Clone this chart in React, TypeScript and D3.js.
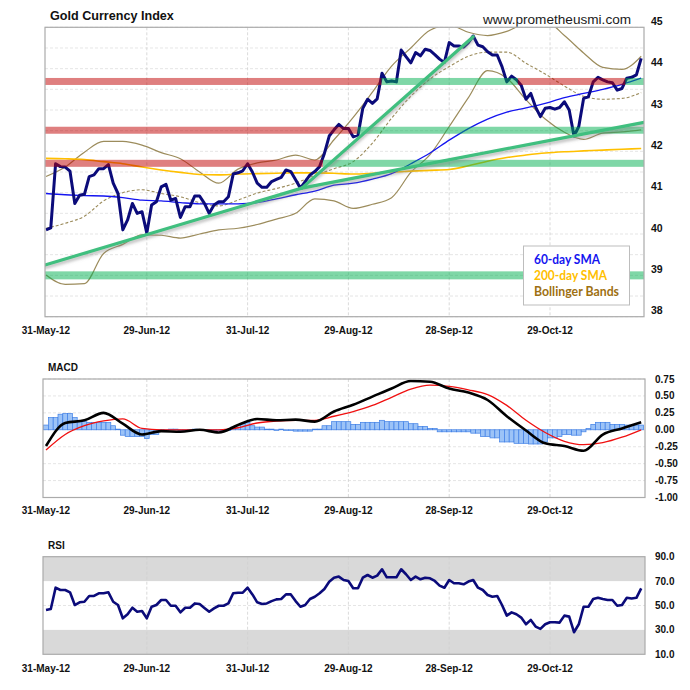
import React from 'react';
import * as d3 from 'd3';

// ---------- DATA ----------
const tickLabels = ['31-May-12', '29-Jun-12', '31-Jul-12', '29-Aug-12', '28-Sep-12', '29-Oct-12'];
const tickIndex = [0, 21, 42, 63, 84, 105];

const mainTicks = [38, 39, 40, 41, 42, 43, 44, 45];
const macdTicks = [-1.0, -0.75, -0.5, -0.25, 0.0, 0.25, 0.5, 0.75];
const rsiTicks = [10, 30, 50, 70, 90];

// daily closes (trading-day index 0..124)
const price = [
  40.10, 40.15, 41.70, 41.63, 41.62, 41.52, 40.74, 40.94, 40.96, 41.39,
  41.43, 41.58, 41.58, 41.68, 41.23, 40.98, 40.10, 40.34, 40.74, 40.50,
  40.54, 40.02, 40.70, 40.78, 41.14, 41.20, 40.82, 40.86, 40.40, 40.66,
  40.66, 40.92, 40.92, 40.74, 40.50, 40.70, 40.78, 40.78, 40.90, 41.45,
  41.48, 41.53, 41.70, 41.50, 41.23, 41.13, 41.13, 41.27, 41.32, 41.37,
  41.55, 41.51, 41.31, 41.11, 41.27, 41.43, 41.51, 41.63, 41.95, 42.37,
  42.52, 42.65, 42.55, 42.55, 42.35, 42.39, 43.04, 43.26, 43.16, 43.27,
  43.89, 43.68, 43.70, 43.68, 44.45, 44.29, 44.14, 44.39, 44.31, 44.47,
  44.44, 44.34, 44.23, 44.15, 44.63, 44.55, 44.55, 44.52, 44.63, 44.79,
  44.57, 44.53, 44.41, 44.33, 44.33, 44.05, 43.68, 43.82, 43.73, 43.60,
  43.26, 43.40, 43.07, 42.84, 43.04, 43.06, 43.02, 43.06, 43.20, 43.00,
  42.37, 42.60, 43.28, 43.32, 43.68, 43.79, 43.73, 43.68, 43.66, 43.48,
  43.52, 43.77, 43.79, 43.85, 44.25,
];

// smooth series, sampled every 4 trading days (index 0,4,...,124)
const smoothStep = 4;
const sma60 = [
  40.98, 40.95, 40.93, 40.92, 40.88, 40.82, 40.80, 40.76, 40.73, 40.73,
  40.73, 40.76, 40.85, 40.95, 41.04, 41.18, 41.23, 41.33, 41.46, 41.70,
  41.96, 42.27, 42.55, 42.78, 42.95, 43.05, 43.16, 43.30, 43.40, 43.50,
  43.62, 43.77,
];
const sma200 = [
  41.83, 41.82, 41.80, 41.75, 41.70, 41.62, 41.55, 41.49, 41.44, 41.43,
  41.45, 41.46, 41.47, 41.48, 41.48, 41.47, 41.45, 41.47, 41.50, 41.52,
  41.54, 41.56, 41.65, 41.76, 41.85, 41.91, 41.96, 41.99, 42.01, 42.03,
  42.05, 42.07,
];
const bbUpper = [
  41.39, 41.62, 41.98, 42.24, 42.24, 42.15, 41.97, 41.82, 41.50, 41.23,
  41.57, 41.72, 41.79, 41.91, 41.79, 42.28, 42.82, 43.43, 44.06, 44.50,
  44.93, 45.05, 44.88, 44.80, 44.90, 45.10, 45.15, 44.80, 44.38, 44.03,
  43.98, 44.30,
];
const bbMiddle = [
  40.14, 40.26, 40.43, 40.80, 41.00, 41.07, 40.98, 40.90, 40.76, 40.68,
  40.82, 40.99, 41.10, 41.23, 41.42, 41.58, 41.75, 42.20, 42.80, 43.33,
  43.75, 44.05, 44.30, 44.40, 44.40, 44.13, 43.87, 43.58, 43.33, 43.26,
  43.28, 43.42,
];
const bbLower = [
  39.01, 38.78, 38.80, 39.53, 39.75, 39.98, 39.97, 39.90, 40.00, 40.10,
  40.14, 40.23, 40.36, 40.50, 40.85, 40.80, 40.62, 40.72, 40.88, 41.49,
  41.92, 42.60, 43.30, 43.95, 43.77, 43.25, 42.78, 42.46, 42.29, 42.44,
  42.47, 42.52,
];

// horizontal support / resistance bands: level and coloured stretches (index range)
const bandLevels = [43.69, 42.51, 41.71, 39.0];
const bandStretches = [
  { level: 43.69, from: -0.2, to: 69.9, kind: 'resistance' },
  { level: 43.69, from: 69.9, to: 98.3, kind: 'support' },
  { level: 43.69, from: 98.3, to: 120.7, kind: 'resistance' },
  { level: 43.69, from: 120.7, to: 124.6, kind: 'support' },
  { level: 42.51, from: -0.2, to: 64.9, kind: 'resistance' },
  { level: 42.51, from: 64.9, to: 124.6, kind: 'support' },
  { level: 41.71, from: -0.2, to: 57.7, kind: 'resistance' },
  { level: 41.71, from: 57.7, to: 124.6, kind: 'support' },
  { level: 39.0, from: -0.2, to: 124.6, kind: 'support' },
];

// trend lines: start index/value -> end index/value
const trendLines = [
  { i0: -0.2, v0: 39.25, i1: 53.3, v1: 41.11 },
  { i0: 53.3, v0: 41.11, i1: 124.6, v1: 42.70 },
  { i0: 53.3, v0: 41.11, i1: 89.0, v1: 44.77 },
];

const macdLine = [
  -0.24, 0.10, 0.14, 0.25, 0.09, -0.07, -0.02, -0.03, 0.00, -0.04,
  0.07, 0.16, 0.14, 0.15, 0.12, 0.27, 0.37, 0.49, 0.61, 0.72,
  0.71, 0.61, 0.55, 0.44, 0.20, -0.01, -0.20, -0.24, -0.31, -0.07,
  0.02, 0.11,
];
const signalLine = [
  -0.30, -0.07, 0.06, 0.13, 0.16, 0.02, 0.00, 0.00, 0.00, 0.00,
  0.03, 0.10, 0.13, 0.14, 0.14, 0.20, 0.27, 0.36, 0.48, 0.60,
  0.66, 0.64, 0.59, 0.52, 0.36, 0.14, -0.04, -0.17, -0.22, -0.19,
  -0.11, 0.00,
];
const histogram = [
  0.07, 0.18, 0.18, 0.23, 0.24, 0.24, 0.18, 0.12, 0.12, 0.11,
  0.11, 0.11, 0.11, 0.11, 0.06, 0.01, -0.08, -0.10, -0.10, -0.10,
  -0.10, -0.13, -0.07, -0.07, -0.02, -0.01, 0.01, 0.01, -0.01, -0.01,
  0.00, 0.01, 0.00, -0.01, -0.01, 0.00, 0.00, -0.01, 0.00, 0.04,
  0.04, 0.09, 0.11, 0.06, 0.04, 0.04, 0.01, 0.01, 0.00, 0.01,
  0.00, 0.00, -0.02, -0.02, -0.02, -0.02, 0.01, 0.01, 0.06, 0.06,
  0.12, 0.12, 0.12, 0.12, 0.08, 0.08, 0.11, 0.11, 0.11, 0.11,
  0.14, 0.12, 0.12, 0.12, 0.12, 0.12, 0.09, 0.09, 0.05, 0.05,
  0.02, 0.02, -0.03, -0.03, -0.03, -0.03, -0.03, -0.03, -0.03, -0.05,
  -0.05, -0.10, -0.10, -0.12, -0.12, -0.18, -0.18, -0.18, -0.20, -0.20,
  -0.20, -0.21, -0.21, -0.21, -0.18, -0.12, -0.12, -0.10, -0.07, -0.07,
  -0.08, -0.08, -0.03, 0.02, 0.08, 0.11, 0.11, 0.11, 0.08, 0.08,
  0.08, 0.07, 0.07, 0.07, 0.07,
];

const rsi = [
  46.3, 47.1, 64.6, 62.7, 62.7, 60.8, 50.4, 52.6, 53.1, 57.8,
  57.8, 60.0, 60.0, 60.8, 53.1, 50.4, 39.5, 42.8, 48.2, 44.9,
  45.5, 39.5, 49.0, 50.4, 54.5, 54.5, 49.8, 49.8, 44.4, 48.2,
  48.2, 51.7, 51.2, 48.0, 44.9, 47.6, 49.8, 49.8, 51.7, 60.0,
  60.5, 60.5, 64.6, 59.1, 52.6, 51.2, 51.7, 53.6, 55.0, 55.3,
  59.1, 59.1, 53.6, 49.0, 50.4, 55.3, 57.2, 60.0, 63.5, 69.5,
  72.8, 73.7, 70.9, 70.1, 64.1, 64.1, 72.8, 75.0, 72.8, 74.5,
  79.7, 73.1, 73.1, 73.1, 79.7, 75.6, 70.9, 73.7, 71.5, 72.8,
  72.3, 70.1, 66.3, 64.6, 70.9, 68.2, 68.2, 67.4, 69.6, 70.9,
  64.6, 62.7, 58.6, 57.2, 57.8, 50.4, 41.7, 44.4, 42.8, 40.1,
  34.6, 38.2, 32.7, 30.8, 34.6, 36.3, 36.3, 36.0, 41.7, 40.9,
  28.1, 34.6, 49.0, 49.0, 55.3, 56.3, 55.3, 54.5, 54.5, 49.8,
  50.4, 56.3, 55.8, 56.3, 64.1,
];

const legendItems = [
  { label: '60-day SMA', color: '#1414F0' },
  { label: '200-day SMA', color: '#FFC000' },
  { label: 'Bollinger Bands', color: '#9E7012' },
];
const legendTextWidths = [66, 73, 85];

// ---------- LAYOUT ----------
const FONT = "'Liberation Sans', Arial, sans-serif";
const main = { left: 45, right: 644, top: 27.3, bottom: 316.7 };
const macdBox = { left: 43, right: 645, top: 379, bottom: 497.5 };
const rsiBox = { left: 43, right: 645, top: 556.7, bottom: 654.3 };

const x = d3.scaleLinear().domain([0, 124]).range([46, 641.2]);
const yMain = d3.scaleLinear().domain([38, 45]).range([main.bottom, main.top]);
const yMacd = d3.scaleLinear().domain([-1, 0.75]).range([macdBox.bottom, macdBox.top]);
const yRsi = d3.scaleLinear().domain([10, 90]).range([rsiBox.bottom, rsiBox.top]);

const smoothPath = (vals: number[], y: d3.ScaleLinear<number, number>) =>
  d3.line<number>().x((_, i) => x(i * smoothStep)).y((d) => y(d)).curve(d3.curveMonotoneX)(vals) || '';
const dailyPath = (vals: number[], y: d3.ScaleLinear<number, number>) =>
  d3.line<number>().x((_, i) => x(i)).y((d) => y(d))(vals) || '';

function Box({ b, fill = 'none' }: { b: any; fill?: string }) {
  return (
    <rect x={b.left} y={b.top} width={b.right - b.left} height={b.bottom - b.top}
      fill={fill} stroke="#ABABAB" strokeWidth={1.2} />
  );
}

function VGrid({ b }: { b: any }) {
  return (
    <g>
      {tickIndex.slice(1).map((t) => (
        <line key={t} x1={x(t)} x2={x(t)} y1={b.top} y2={b.bottom}
          stroke="#D0D0D0" strokeWidth={0.8} strokeDasharray="3,2" />
      ))}
    </g>
  );
}

function XLabels({ yPos }: { yPos: number }) {
  return (
    <g>
      {tickIndex.map((t, i) => (
        <text key={t} x={x(t)} y={yPos} textAnchor="middle" fontFamily={FONT}
          fontWeight="bold" fontSize={10} fill="#111">{tickLabels[i]}</text>
      ))}
    </g>
  );
}

export default function App() {
  const mainGrid = d3.range(38, 45.01, 0.5);
  const macdGrid = macdTicks;
  const bandColor = (k: string) => (k === 'support' ? 'rgb(0,176,80)' : 'rgb(192,0,0)');
  const barW = x(1) - x(0);

  return (
    <svg width={690} height={690} style={{ position: 'absolute', left: 0, top: 0, background: '#fff' }}>
      <defs>
        <clipPath id="clipMain">
          <rect x={main.left} y={main.top} width={main.right - main.left} height={main.bottom - main.top} />
        </clipPath>
        <clipPath id="clipMacd">
          <rect x={macdBox.left} y={macdBox.top} width={macdBox.right - macdBox.left} height={macdBox.bottom - macdBox.top} />
        </clipPath>
        <filter id="shadow" x="-10%" y="-50%" width="120%" height="200%">
          <feDropShadow dx={0} dy={2.5} stdDeviation={1.6} floodColor="#808080" floodOpacity={0.55} />
        </filter>
      </defs>
      <rect x={0} y={0} width={690} height={690} fill="#fff" />

      {/* ---------------- MAIN PANEL ---------------- */}
      <text x={50} y={20} fontFamily={FONT} fontWeight="bold" fontSize={12.6} fill="#111">Gold Currency Index</text>
      <text x={483} y={24} fontFamily={FONT} fontSize={13.6} fill="#1a1a1a">www.prometheusmi.com</text>

      {mainGrid.map((v) => (
        <line key={v} x1={main.left} x2={main.right} y1={yMain(v)} y2={yMain(v)}
          stroke="#DEDEDE" strokeWidth={0.8} strokeDasharray="3,2" />
      ))}
      <VGrid b={main} />

      <g clipPath="url(#clipMain)">
        <path d={smoothPath(bbUpper, yMain)} fill="none" stroke="#9C8C5C" strokeWidth={1.2} />
        <path d={smoothPath(bbLower, yMain)} fill="none" stroke="#9C8C5C" strokeWidth={1.2} />
        <path d={smoothPath(bbMiddle, yMain)} fill="none" stroke="#9C8C5C" strokeWidth={1.1} strokeDasharray="3,2" />
        <path d={smoothPath(sma200, yMain)} fill="none" stroke="#FFC000" strokeWidth={1.6} />
        <path d={smoothPath(sma60, yMain)} fill="none" stroke="#1414F0" strokeWidth={1.3} />
        <path d={dailyPath(price, yMain)} fill="none" stroke="#0B0B7A" strokeWidth={3} strokeLinejoin="round" />

        {bandStretches.map((s, i) => (
          <rect key={i} x={Math.max(main.left, x(s.from))} y={yMain(s.level) - (s.level === bandLevels[3] ? 4 : 3.5)}
            width={Math.min(main.right, x(s.to)) - Math.max(main.left, x(s.from))}
            height={s.level === bandLevels[3] ? 8 : 7}
            fill={bandColor(s.kind)} fillOpacity={0.5} />
        ))}

        <g filter="url(#shadow)">
          {trendLines.map((t, i) => (
            <line key={i} x1={x(t.i0)} y1={yMain(t.v0)} x2={x(t.i1)} y2={yMain(t.v1)}
              stroke="#3FBF7F" strokeWidth={3.2} strokeLinecap="round" />
          ))}
        </g>
      </g>
      <Box b={main} />

      {mainTicks.map((v) => (
        <text key={v} x={651} y={yMain(v) - 6} dy="0.35em" fontFamily={FONT} fontWeight="bold" fontSize={10.5} fill="#111">{v}</text>
      ))}
      <XLabels yPos={334} />

      {/* legend */}
      <rect x={523.5} y={246} width={106} height={59} fill="#fff" stroke="#BDBDBD" strokeWidth={1} />
      {legendItems.map((l, i) => (
        <text key={l.label} x={534} y={263.5 + i * 16} fontFamily="Lato, 'Open Sans', sans-serif" fontWeight="bold"
          fontSize={12.6} fill={l.color} textLength={legendTextWidths[i]} lengthAdjust="spacingAndGlyphs">{l.label}</text>
      ))}

      {/* ---------------- MACD PANEL ---------------- */}
      <text x={48} y={370.5} fontFamily={FONT} fontWeight="bold" fontSize={10} fill="#111">MACD</text>
      {macdGrid.map((v) => (
        <line key={v} x1={macdBox.left} x2={macdBox.right} y1={yMacd(v)} y2={yMacd(v)}
          stroke="#DEDEDE" strokeWidth={0.8} strokeDasharray="3,2" />
      ))}
      <VGrid b={macdBox} />
      <g clipPath="url(#clipMacd)">
        {histogram.map((h, i) => (
          <rect key={i} x={x(i) - barW / 2} width={barW}
            y={Math.min(yMacd(h), yMacd(0))} height={Math.max(0.6, Math.abs(yMacd(h) - yMacd(0)))}
            fill="#9CC3F7" stroke="#3F7FE6" strokeWidth={0.7} />
        ))}
        <path d={smoothPath(signalLine, yMacd)} fill="none" stroke="#F01010" strokeWidth={1.3} />
        <path d={smoothPath(macdLine, yMacd)} fill="none" stroke="#000" strokeWidth={2.6} />
      </g>
      <Box b={macdBox} />
      {macdTicks.map((v) => (
        <text key={v} x={655} y={yMacd(v)} dy="0.35em" fontFamily={FONT} fontWeight="bold" fontSize={10} fill="#111">{v.toFixed(2)}</text>
      ))}
      <XLabels yPos={514} />

      {/* ---------------- RSI PANEL ---------------- */}
      <text x={48} y={549} fontFamily={FONT} fontWeight="bold" fontSize={10} fill="#111">RSI</text>
      <rect x={rsiBox.left} y={yRsi(90)} width={rsiBox.right - rsiBox.left} height={yRsi(70) - yRsi(90)} fill="#D9D9D9" />
      <rect x={rsiBox.left} y={yRsi(30)} width={rsiBox.right - rsiBox.left} height={yRsi(10) - yRsi(30)} fill="#D9D9D9" />
      <line x1={rsiBox.left} x2={rsiBox.right} y1={yRsi(50)} y2={yRsi(50)} stroke="#DEDEDE" strokeWidth={0.8} strokeDasharray="3,2" />
      <VGrid b={rsiBox} />
      <path d={dailyPath(rsi, yRsi)} fill="none" stroke="#0B0B7A" strokeWidth={2.6} strokeLinejoin="round" />
      <Box b={rsiBox} />
      {rsiTicks.map((v) => (
        <text key={v} x={655} y={yRsi(v)} dy="0.35em" fontFamily={FONT} fontWeight="bold" fontSize={10} fill="#111">{v.toFixed(1)}</text>
      ))}
      <XLabels yPos={671.5} />
    </svg>
  );
}
